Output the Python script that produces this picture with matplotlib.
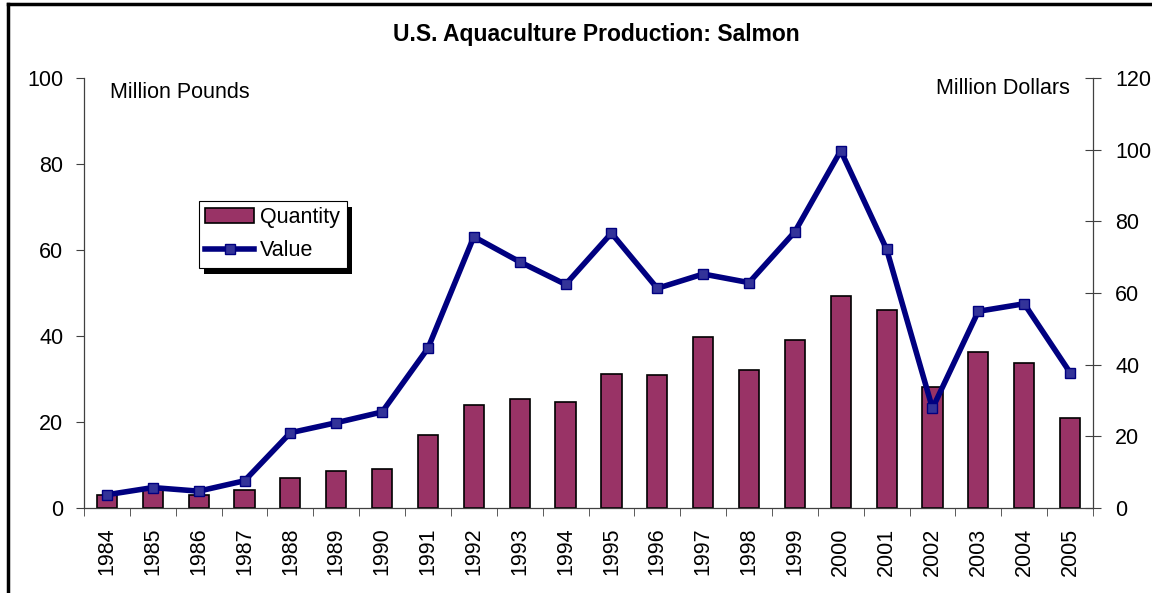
import matplotlib
matplotlib.use("Agg")
import matplotlib.pyplot as plt
from matplotlib.lines import Line2D
from matplotlib.patches import Rectangle
import numpy as np

plt.rcParams["font.family"] = ["Liberation Sans", "DejaVu Sans"]

years = [str(y) for y in range(1984, 2006)]
quantity = [3.0, 4.5, 3.0, 4.2, 7.0, 8.7, 9.1, 16.9, 23.9, 25.4, 24.7,
            31.2, 30.9, 39.8, 32.0, 39.1, 49.3, 46.0, 28.1, 36.3, 33.7, 21.0]
value = [3.7, 5.7, 4.7, 7.6, 21.0, 23.8, 26.8, 44.6, 75.7, 68.7, 62.4,
         76.7, 61.3, 65.3, 62.9, 77.1, 99.7, 72.2, 27.8, 54.9, 57.0, 37.8]

BAR = "#993366"
LINE = "#000080"
MARK = "#333399"
FS = 15.5

fig = plt.figure(figsize=(11.52, 5.93), dpi=100)
ax = fig.add_axes([84 / 1152, 1 - 508 / 593, (1093 - 84) / 1152, (508 - 78) / 593])
ax2 = ax.twinx()

x = np.arange(len(years))
bars = ax.bar(x, quantity, width=0.44, color=BAR, edgecolor="black",
              linewidth=1.2, label="Quantity", zorder=2)
line, = ax2.plot(x, value, color=LINE, linewidth=4, marker="s", markersize=7,
                 markerfacecolor=MARK, markeredgecolor=LINE, markeredgewidth=1,
                 label="Value")

ax.set_xlim(-0.5, len(years) - 0.5)
ax.set_ylim(0, 100)
ax2.set_ylim(0, 120)
ax.set_yticks(range(0, 101, 20))
ax2.set_yticks(range(0, 121, 20))

ax.set_xticks(x)
ax.set_xticklabels(years, rotation=90, fontsize=FS)
ax.set_xticks(np.arange(-0.5, len(years), 1), minor=True)
ax.tick_params(axis="x", which="major", length=0, pad=14)
ax.tick_params(axis="x", which="minor", length=6, direction="out", color="#404040")
ax.tick_params(axis="y", labelsize=FS, length=6, direction="out", pad=9, color="#404040")
ax2.tick_params(axis="y", labelsize=FS, length=12, direction="inout", pad=10, color="#404040")

for a in (ax, ax2):
    a.spines["top"].set_visible(False)
    for s in ("left", "right", "bottom"):
        a.spines[s].set_color("#404040")
        a.spines[s].set_linewidth(0.9)
ax.spines["right"].set_visible(False)
ax2.spines["left"].set_visible(False)
ax2.spines["bottom"].set_visible(False)

fig.text(596 / 1152, 1 - 34 / 593, "U.S. Aquaculture Production: Salmon",
         ha="center", va="center", fontsize=16.5, fontweight="bold")
fig.text(110 / 1152, 1 - 93 / 593, "Million Pounds", ha="left", va="center", fontsize=FS)
fig.text(1070 / 1152, 1 - 89 / 593, "Million Dollars", ha="right", va="center", fontsize=FS)

leg = ax2.legend([bars, line], ["Quantity", "Value"], loc="upper left",
                 bbox_to_anchor=(199 / 1152, 1 - 201 / 593),
                 bbox_transform=fig.transFigure, fontsize=FS, frameon=True,
                 fancybox=False, framealpha=1, edgecolor="black",
                 borderpad=0.3, handlelength=2.25, handletextpad=0.3,
                 labelspacing=0.55, borderaxespad=0)
leg.get_frame().set_linewidth(0.8)
leg.set_zorder(10)

# black drop shadow behind the legend box
fig.canvas.draw()
bb = leg.get_frame().get_window_extent()
ax2.add_artist(Rectangle((bb.x0 + 5, bb.y0 - 6), bb.width, bb.height,
                         transform=None, facecolor="black", edgecolor="none",
                         zorder=9))

# outer chart border (left and top edges visible)
fig.add_artist(Line2D([8 / 1152, 8 / 1152], [0, 1 - 4 / 593], color="black",
                      linewidth=2.5, transform=fig.transFigure))
fig.add_artist(Line2D([8 / 1152, 1], [1 - 4 / 593, 1 - 4 / 593], color="black",
                      linewidth=2.5, transform=fig.transFigure))

fig.savefig("out.png", dpi=100)
